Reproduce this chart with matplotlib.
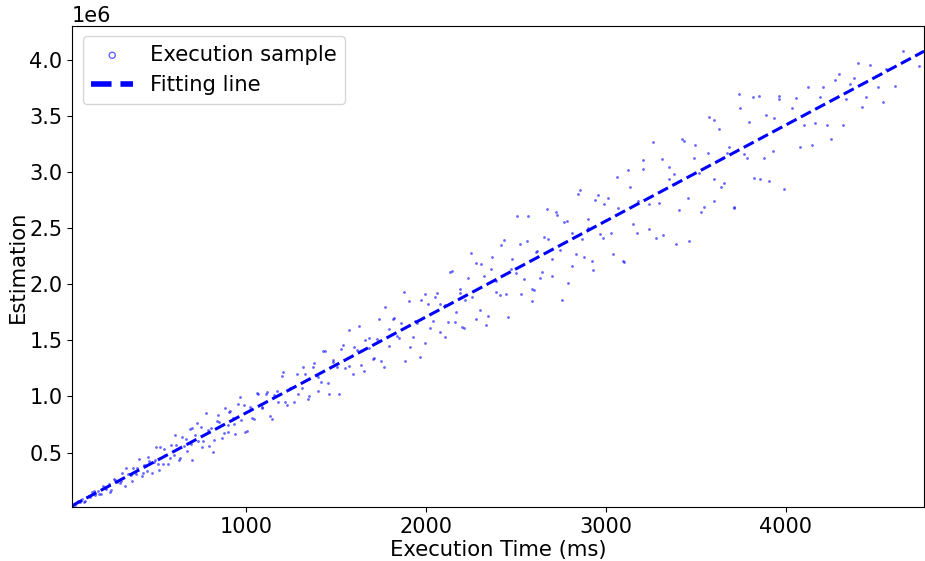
import numpy as np
import matplotlib
matplotlib.use("Agg")
import matplotlib.pyplot as plt

# execution time (ms) and estimation (in millions), read off the scatter cloud
exec_ms = [
    30, 48, 62, 75, 90, 104, 117, 133, 146, 160, 178, 191, 205, 222, 236, 251, 265, 283,
    297, 312, 326, 344, 359, 371, 388, 402, 419, 433, 447, 462, 478, 493, 508, 521, 537,
    552, 566, 583, 597, 611, 628, 642, 657, 673, 688, 702, 717, 733, 748, 762, 779, 793,
    806, 823, 838, 852, 868, 883, 897, 912, 928, 941, 957, 972, 988, 1003,
    1021, 1044, 1065, 1088, 1109, 1131, 1155, 1176, 1198, 1219, 1243, 1264, 1286, 1309,
    1330, 1352, 1375, 1396, 1418, 1441, 1463, 1484, 1507, 1529, 1550, 1573, 1595, 1616,
    1639, 1661, 1683, 1706, 1727, 1749, 1772, 1794, 1815, 1838, 1860, 1882, 1905, 1926,
    1948, 1971, 1993, 2014, 2037, 2059, 2081, 2104, 2125, 2147, 2170, 2192, 2213, 2236,
    2258, 2280, 2303, 2324, 2346, 2369, 2391, 2412, 2435, 2457, 2479, 2502, 2523, 2545,
    2568, 2590, 2611, 2634, 2656, 2678, 2701, 2722, 2744, 2767, 2789, 2810, 2833, 2855,
    2877, 2900, 2921, 2943, 2966, 2988,
    3014, 3041, 3070, 3097, 3126, 3153, 3182, 3209, 3238, 3265, 3294, 3321, 3350, 3377,
    3406, 3433, 3462, 3489, 3518, 3545, 3574, 3601, 3630, 3657, 3686, 3713, 3742, 3769,
    3798, 3825, 3854, 3881, 3910, 3937, 3966, 3993,
    4035, 4078, 4124, 4163, 4207, 4252, 4296, 4338, 4381, 4426, 4470, 4512, 4560, 4608, 4655,
    4540, 4740, 2600, 2200, 3600, 1400, 900, 500, 700,
    # second pass through the cloud
    40, 68, 97, 125, 152, 184, 213, 243, 274, 304, 335, 365, 395, 426, 455, 486, 515, 545,
    575, 604, 635, 665, 695, 725, 755, 786, 815, 845, 875, 905, 935, 965, 995,
    1032, 1060, 1090, 1117, 1146, 1173, 1203, 1230, 1259, 1287, 1316, 1344, 1371, 1401,
    1428, 1457, 1485, 1514, 1541, 1570, 1598, 1626, 1655, 1682, 1712, 1739, 1768, 1796,
    1824, 1853, 1880, 1910, 1937, 1966, 1994, 2022, 2051, 2078, 2108, 2135, 2164, 2192,
    2220, 2249, 2276, 2306, 2333, 2362, 2390, 2418, 2447, 2474, 2504, 2531, 2560, 2588,
    2616, 2645, 2672, 2702, 2729, 2758, 2786, 2814, 2843, 2870, 2900, 2927, 2956, 2984,
    3027, 3063, 3099, 3134, 3172, 3207, 3243, 3280, 3315, 3352, 3388, 3423, 3460, 3496,
    3531, 3568, 3604, 3640, 3676, 3712, 3748, 3785, 3820, 3856, 3892, 3929, 3964,
    4056, 4100, 4145, 4190, 4230, 4275, 4318, 4360, 4405, 4448,
]
estimation_m = [
    0.027, 0.035, 0.063, 0.062, 0.086, 0.069, 0.104, 0.105, 0.154, 0.120, 0.155, 0.135,
    0.199, 0.180, 0.220, 0.172, 0.263, 0.241, 0.228, 0.322, 0.204, 0.313, 0.298, 0.361,
    0.306, 0.440, 0.296, 0.386, 0.334, 0.430, 0.319, 0.439, 0.401, 0.549, 0.402, 0.480,
    0.400, 0.567, 0.483, 0.569, 0.431, 0.637, 0.558, 0.517, 0.711, 0.439, 0.653, 0.608,
    0.727, 0.601, 0.853, 0.561, 0.718, 0.616, 0.781, 0.776, 0.632, 0.895, 0.744, 0.868,
    0.808, 0.666, 0.931, 0.787, 0.920, 0.689,
    0.910, 0.802, 1.021, 0.910, 1.018, 0.823, 1.013, 0.952, 1.181, 0.953, 1.074, 0.954,
    1.198, 1.077, 1.203, 1.002, 1.300, 1.187, 1.128, 1.401, 1.025, 1.322, 1.261, 1.424,
    1.254, 1.594, 1.204, 1.418, 1.282, 1.502, 1.522, 1.334, 1.515, 1.320, 1.795, 1.452,
    1.691, 1.537, 1.657, 1.318, 1.852, 1.532, 1.656, 1.863, 1.477, 1.821, 1.676, 1.918,
    1.571, 1.817, 1.662, 2.117, 1.756, 1.923, 1.610, 2.053, 1.889, 2.186, 1.770, 2.070,
    1.715, 2.239, 2.032, 1.907, 2.389, 1.708, 2.225, 2.097, 2.355, 2.042, 2.611, 1.955,
    2.282, 2.051, 2.416, 2.404, 2.071, 2.638, 2.300, 2.550, 2.006, 2.455, 2.273, 2.835,
    2.240, 2.500, 2.205, 2.747, 2.450, 2.718,
    2.769, 2.270, 2.680, 2.206, 3.016, 2.535, 2.741, 3.022, 2.491, 3.264, 2.724, 2.442,
    3.041, 2.985, 2.661, 3.274, 2.387, 3.126, 2.990, 2.688, 3.491, 2.938, 3.379, 2.897,
    3.218, 2.686, 3.696, 3.160, 3.448, 2.942, 3.676, 3.121, 2.918, 3.480, 3.644, 2.844,
    3.567, 3.224, 3.751, 3.432, 3.755, 3.289, 3.871, 3.650, 3.836, 3.574, 3.951, 3.758,
    3.915, 3.760, 4.075,
    3.62, 3.94, 1.95, 1.62, 2.74, 1.05, 0.68, 0.55, 0.72,
    # second pass
    0.031, 0.068, 0.063, 0.111, 0.157, 0.134, 0.185, 0.147, 0.261, 0.246, 0.360, 0.251,
    0.360, 0.319, 0.461, 0.413, 0.343, 0.530, 0.454, 0.661, 0.449, 0.620, 0.577, 0.764,
    0.549, 0.700, 0.510, 0.839, 0.672, 0.862, 0.757, 0.997, 0.683,
    0.807, 1.031, 0.897, 1.041, 0.803, 1.045, 1.219, 0.928, 1.087, 1.024, 1.262, 0.978,
    1.259, 1.172, 1.408, 1.120, 1.303, 1.019, 1.457, 1.270, 1.445, 1.625, 1.227, 1.430,
    1.339, 1.691, 1.262, 1.600, 1.699, 1.525, 1.930, 1.442, 1.673, 1.350, 1.912, 1.609,
    1.883, 1.823, 1.534, 2.105, 1.663, 1.953, 1.857, 2.279, 1.687, 2.180, 1.634, 2.136,
    1.934, 2.351, 1.914, 2.137, 2.605, 1.910, 2.385, 1.848, 2.295, 2.104, 2.671, 2.223,
    2.617, 1.857, 2.558, 2.162, 2.803, 2.400, 2.583, 2.130, 2.794, 2.415,
    2.457, 2.955, 2.200, 2.864, 2.454, 3.108, 2.715, 2.412, 3.114, 2.935, 2.361, 3.288,
    2.765, 3.239, 2.641, 3.169, 3.462, 2.862, 3.171, 2.682, 3.568, 3.121, 3.669, 2.933,
    3.507, 3.189, 3.673,
    3.654, 3.415, 3.241, 3.668, 3.416, 3.815, 3.413, 3.780, 3.969, 3.667,
]

# fitted line: estimation = slope * ms + intercept
fit_slope = 854.0
fit_intercept = 0.0

x = np.array(exec_ms, dtype=float)
y = np.array(estimation_m) * 1e6

x_lo, x_hi = 33, 4770
xs = np.array([x_lo, x_hi])

fig = plt.figure(figsize=(9.25, 5.61), dpi=100)
ax = fig.add_axes([0.078, 0.096, 0.921, 0.858])

ax.scatter(x, y, s=4, c="blue", alpha=0.6, linewidths=0, label="Execution sample")
ax.plot(xs, fit_slope * xs + fit_intercept, "--", color="blue", lw=2.2, label="Fitting line")

ax.set_xlim(x_lo, x_hi)
ax.set_ylim(1.5e4, 4.3e6)
ax.set_xlabel("Execution Time (ms)", fontsize=15.2, labelpad=2)
ax.set_ylabel("Estimation", fontsize=15.2, labelpad=1)
ax.tick_params(labelsize=15)
ax.yaxis.get_offset_text().set_fontsize(15)

leg = ax.legend(loc="upper left", fontsize=15.2, markerscale=2.2)
h_pts, h_line = leg.legend_handles
h_pts.set_facecolor("none")
h_pts.set_edgecolor("blue")
h_pts.set_linewidth(1)
h_line.set_linewidth(4)

fig.savefig("out.png", dpi=100)
